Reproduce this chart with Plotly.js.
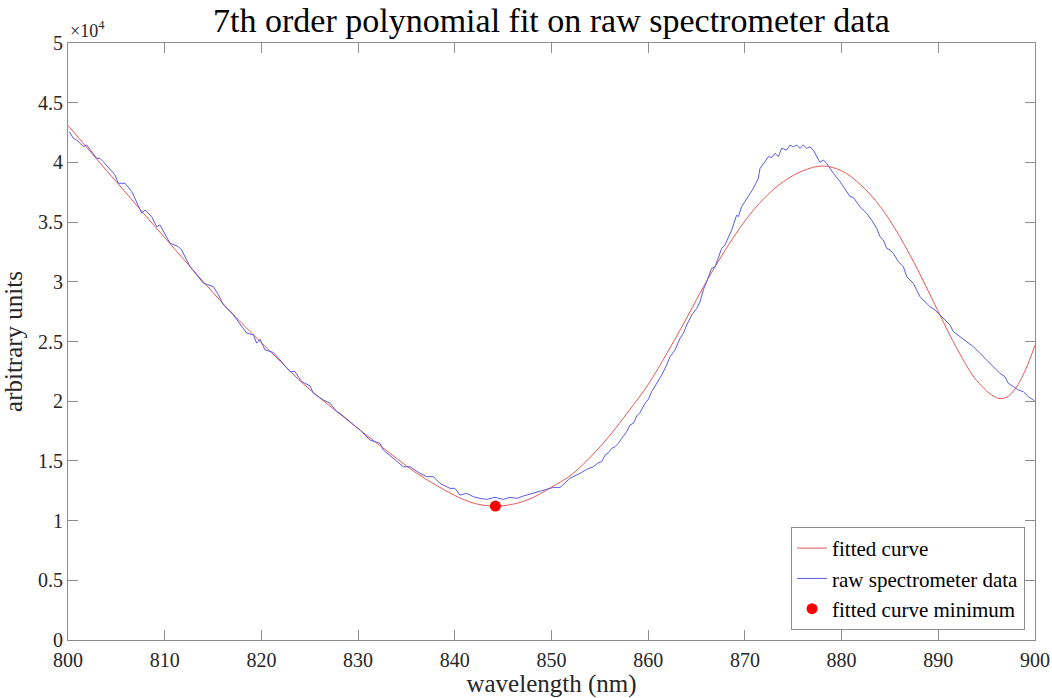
<!DOCTYPE html>
<html><head><meta charset="utf-8">
<script src="https://cdn.plot.ly/plotly-3.0.1.min.js"></script>
<style>html,body{margin:0;padding:0;background:#fff;} #chart{width:1052px;height:698px;}</style>
</head><body><div id="chart"></div>
<script>
// values in units of 10^4 (as shown by the axis multiplier)
const fitWavelength = [800,802,804,806,808,810,812,814,816,818,820,822,824,826,828,830,832,834,836,838,840,842,844,846,848,850,852,854,856,858,860,862,864,866,868,870,872,874,876,878,880,882,884,886,888,890,892,894,896,897,898,899,900];
const fitValue = [4.31,4.12,3.93,3.745,3.555,3.37,3.185,3.00,2.82,2.65,2.49,2.33,2.17,2.03,1.90,1.77,1.645,1.52,1.40,1.30,1.21,1.145,1.122,1.137,1.19,1.28,1.38,1.53,1.71,1.92,2.14,2.41,2.70,3.00,3.27,3.51,3.70,3.84,3.93,3.97,3.93,3.81,3.63,3.38,3.08,2.75,2.43,2.17,2.03,2.03,2.11,2.26,2.47];

const rawWavelength = [800.14,800.55,800.90,801.59,801.93,802.96,803.31,803.65,804.86,805.2,805.9,806.6,807.62,807.96,808.65,809.17,809.51,810.55,811.41,811.75,812.61,813.65,814.0,815.03,815.55,816.06,817.1,818.48,819.17,819.51,819.85,820.37,821.23,821.92,822.96,823.47,824.16,825.03,825.37,826.4,827.1,827.78,828.13,829.16,830.2,831.23,832.27,832.61,833.65,834.68,835.37,836.4,837.09,837.78,838.47,839.5,840.02,840.54,841.23,841.92,842.61,843.3,844.16,845.02,845.71,846.4,847.09,848.12,849.16,850.19,850.88,851.91,852.95,853.64,854.33,854.85,855.19,855.54,855.88,856.22,856.57,856.91,857.26,857.78,858.12,858.47,858.81,859.15,859.67,860.02,860.36,860.88,861.4,861.91,862.26,862.77,863.29,863.64,863.98,864.5,865.02,865.36,865.7,866.05,866.39,866.56,866.91,867.25,867.6,867.94,868.28,868.63,869.15,869.32,869.66,870.18,870.87,871.39,871.56,872.08,872.42,872.77,873.11,873.46,873.8,874.32,874.66,875.01,875.35,875.7,876.04,876.39,876.73,877.07,877.42,877.76,878.11,878.45,878.8,879.15,879.84,880.53,880.87,881.21,881.9,882.59,883.11,883.63,883.97,884.32,884.66,885.01,885.35,885.87,886.39,886.73,887.07,887.42,887.76,888.11,888.45,888.8,889.14,889.66,890.18,890.87,891.21,891.56,892.25,892.93,893.62,894.31,895.0,895.69,896.38,896.9,897.24,897.76,898.28,898.79,899.31,899.83,900.0];
const rawValue = [4.257,4.202,4.188,4.132,4.146,4.034,4.034,4.006,3.895,3.825,3.825,3.755,3.574,3.602,3.546,3.462,3.476,3.323,3.295,3.267,3.128,3.016,2.988,2.960,2.891,2.807,2.723,2.570,2.556,2.486,2.519,2.430,2.408,2.346,2.248,2.248,2.164,2.128,2.067,2.011,1.983,1.913,1.898,1.828,1.759,1.675,1.647,1.591,1.521,1.451,1.451,1.396,1.368,1.368,1.312,1.270,1.270,1.214,1.228,1.200,1.186,1.178,1.195,1.178,1.195,1.186,1.206,1.228,1.250,1.278,1.278,1.354,1.396,1.429,1.452,1.485,1.494,1.549,1.569,1.605,1.619,1.647,1.689,1.745,1.801,1.815,1.876,1.904,1.982,2.016,2.080,2.150,2.219,2.303,2.373,2.429,2.526,2.568,2.638,2.722,2.778,2.833,2.931,3.001,3.071,3.112,3.126,3.196,3.280,3.308,3.364,3.433,3.559,3.545,3.629,3.699,3.782,3.866,3.950,4.006,4.048,4.042,4.076,4.048,4.118,4.104,4.145,4.131,4.145,4.118,4.145,4.118,4.131,4.104,4.048,4.000,4.020,3.992,3.950,3.908,3.839,3.755,3.713,3.707,3.629,3.573,3.517,3.448,3.378,3.350,3.280,3.266,3.238,3.168,3.127,3.043,3.015,2.987,2.931,2.875,2.847,2.820,2.792,2.764,2.722,2.666,2.638,2.582,2.540,2.499,2.457,2.401,2.345,2.289,2.233,2.205,2.150,2.122,2.094,2.080,2.038,2.010,1.996];

const minWavelength = [844.2];
const minValue = [1.122];

const xTickVals = [800,810,820,830,840,850,860,870,880,890,900];
const yTickVals = [0,0.5,1,1.5,2,2.5,3,3.5,4,4.5,5];
const yTickText = ['0','0.5','1','1.5','2','2.5','3','3.5','4','4.5','5'];

const seriesNames = ['fitted curve','raw spectrometer data','fitted curve minimum'];

const FONT = 'Liberation Serif, Times New Roman, serif';
const AXIS_COLOR = '#8c8c8c';

const traces = [
  {x: fitWavelength, y: fitValue, type: 'scatter', mode: 'lines', name: seriesNames[0],
   line: {color: 'rgb(232,88,88)', width: 1, shape: 'spline', smoothing: 1}},
  {x: rawWavelength, y: rawValue, type: 'scatter', mode: 'lines', name: seriesNames[1],
   line: {color: 'rgb(92,92,226)', width: 1}},
  {x: minWavelength, y: minValue, type: 'scatter', mode: 'markers', name: seriesNames[2],
   marker: {color: '#ff0000', size: 11}}
];

const axisCommon = {
  showgrid: false, zeroline: false, showline: true, mirror: 'ticks',
  linecolor: AXIS_COLOR, linewidth: 1, ticks: 'inside', ticklen: 10, tickwidth: 1,
  tickcolor: AXIS_COLOR, tickfont: {family: FONT, size: 20, color: '#262626'}
};

const layout = {
  width: 1052, height: 698,
  margin: {l: 68, r: 17, t: 43, b: 58},
  paper_bgcolor: '#ffffff', plot_bgcolor: '#ffffff',
  font: {family: FONT, color: '#262626'},
  title: {text: '7th order polynomial fit on raw spectrometer data',
          font: {family: FONT, size: 34, color: '#000000'},
          x: 0.5, xref: 'paper', y: 1 - 20/698, yref: 'container', yanchor: 'middle'},
  xaxis: Object.assign({}, axisCommon, {
    range: [800, 900], tickvals: xTickVals, ticktext: xTickVals.map(String),
    ticklabelstandoff: 2,
    title: {text: 'wavelength (nm)', font: {family: FONT, size: 25, color: '#262626'}, standoff: 2}
  }),
  yaxis: Object.assign({}, axisCommon, {
    range: [0, 5], tickvals: yTickVals, ticktext: yTickText,
    title: {text: 'arbitrary units', font: {family: FONT, size: 25, color: '#262626'}, standoff: 8}
  }),
  legend: {
    x: 0.9897, xanchor: 'right', y: 0.0168, yanchor: 'bottom',
    bgcolor: '#ffffff', bordercolor: AXIS_COLOR, borderwidth: 1,
    font: {family: FONT, size: 21, color: '#000000'}, tracegroupgap: 0
  },
  annotations: [{
    text: '×10<sup>4</sup>', xref: 'paper', yref: 'paper', x: 0, y: 1,
    xanchor: 'left', yanchor: 'bottom', showarrow: false,
    font: {family: FONT, size: 18, color: '#262626'}
  }],
  showlegend: true
};

Plotly.newPlot('chart', traces, layout, {displayModeBar: false, staticPlot: true});
</script>
</body></html>
